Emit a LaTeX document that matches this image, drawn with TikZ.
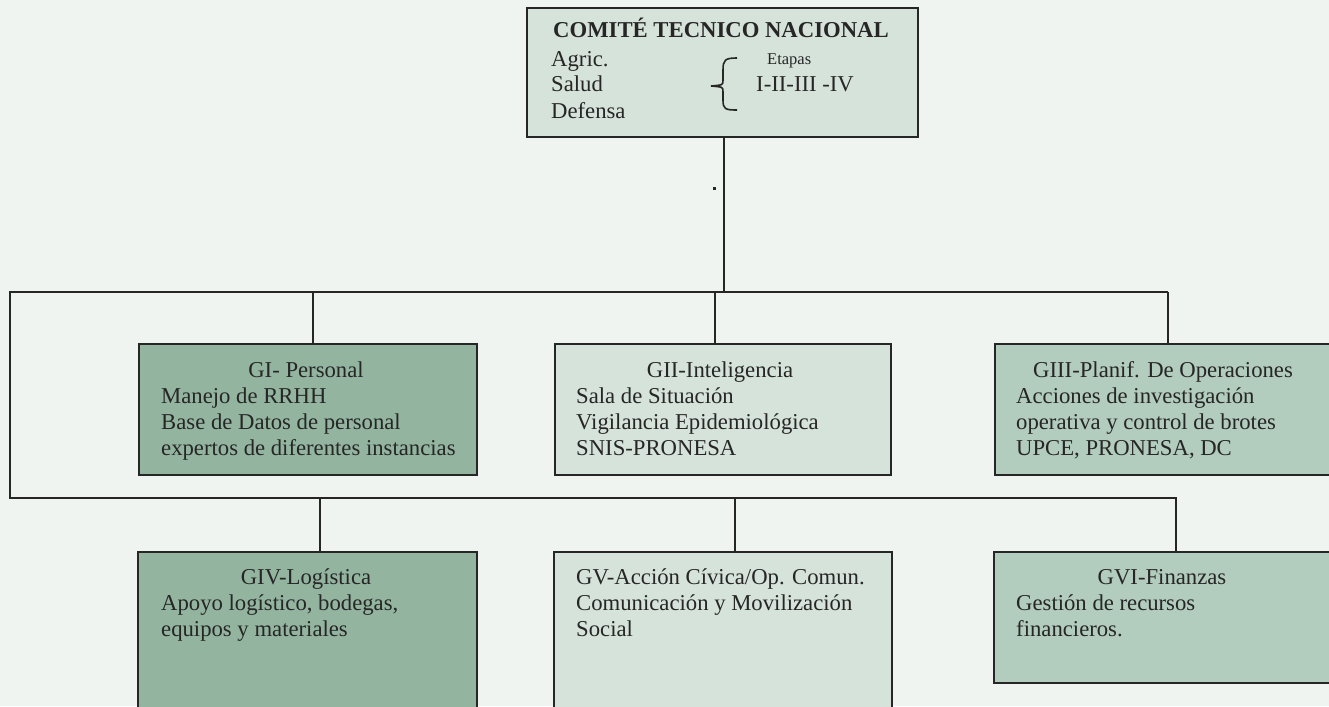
\documentclass[tikz,border=0pt]{standalone}
\usepackage{fontspec}
\setmainfont{Liberation Serif}
\definecolor{bg}{HTML}{EFF4F0}
\definecolor{dark}{HTML}{93B5A0}
\definecolor{light}{HTML}{D6E3DA}
\definecolor{mid}{HTML}{B2CCBE}
\definecolor{ln}{HTML}{262626}
\begin{document}
\begin{tikzpicture}[x=1pt,y=-1pt,
  box/.style={draw=ln,line width=2pt,rectangle,inner sep=0pt},
  conn/.style={draw=ln,line width=2pt},
  txt/.style={inner sep=0pt,anchor=base west,font=\fontsize{22.7}{26}\selectfont,text=black!85},
  ttl/.style={inner sep=0pt,anchor=base,font=\fontsize{22.7}{26}\selectfont,text=black!85}]
\useasboundingbox (0,0) rectangle (1329,706);
\clip (0,0) rectangle (1329,706);
\fill[bg] (0,0) rectangle (1329,706);

% boxes
\node[box,fill=light,minimum width=391pt,minimum height=129pt,anchor=north west] (top) at (526,7) {};
\node[box,fill=dark,minimum width=338pt,minimum height=131pt,anchor=north west] (gi) at (138,343) {};
\node[box,fill=light,minimum width=336pt,minimum height=131pt,anchor=north west] (gii) at (554,343) {};
\node[box,fill=mid,minimum width=360pt,minimum height=131pt,anchor=north west] (giii) at (994,343) {};
\node[box,fill=dark,minimum width=339pt,minimum height=200pt,anchor=north west] (giv) at (137,551) {};
\node[box,fill=light,minimum width=338pt,minimum height=200pt,anchor=north west] (gv) at (553,551) {};
\node[box,fill=mid,minimum width=360pt,minimum height=131pt,anchor=north west] (gvi) at (993,551) {};

% top box text
\node[txt,font=\fontsize{22.7}{26}\bfseries\selectfont] (tt) at (553,38) {COMITÉ TECNICO NACIONAL};
\node[txt] (t1) at (551,67) {Agric.};
\node[txt] (t2) at (551,92) {Salud};
\node[txt] (t3) at (551,118) {Defensa};
\node[txt,font=\fontsize{16.5}{18}\selectfont] (et) at (767,65) {Etapas};
\node[txt] (st) at (756,92) {I-II-III -IV};
\draw[ln,line width=1.6pt] (737,58) .. controls (725,58) and (723,60) .. (723,70)
  -- (723,80) .. controls (723,85) .. (711,86)
  .. controls (723,87) .. (723,92) -- (723,100)
  .. controls (723,109) and (725,110) .. (737,110);

% connectors
\coordinate (j1) at (724,292);
\coordinate (jl) at (10,292);
\coordinate (jb) at (10,498);
\draw[conn] (top.south -| j1) -- (j1);
\fill[ln] (712.5,187) rectangle (715.5,190);
\draw[conn] (1168,292) -- (jl) -- (jb) -- (1176,498) -- (gvi.north -| 1176,498);
\draw[conn] (313,292) -- (gi.north -| 313,292);
\draw[conn] (715,292) -- (gii.north -| 715,292);
\draw[conn] (1168,292) -- (giii.north -| 1168,292);
\draw[conn] (320,498) -- (giv.north -| 320,498);
\draw[conn] (735,498) -- (gv.north -| 735,498);

% GI
\node[ttl] (gi0) at (306,377) {GI- Personal};
\node[txt] (gi1) at (161,403) {Manejo de RRHH};
\node[txt] (gi2) at (161,429) {Base de Datos de personal};
\node[txt] (gi3) at (161,455) {expertos de diferentes instancias};
% GII
\node[ttl] (gii0) at (720,377) {GII-Inteligencia};
\node[txt] (gii1) at (576,403) {Sala de Situación};
\node[txt] (gii2) at (576,429) {Vigilancia Epidemiológica};
\node[txt] (gii3) at (576,455) {SNIS-PRONESA};
% GIII
\node[txt] (giii0) at (1033,377) {GIII-Planif. De Operaciones};
\node[txt] (giii1) at (1016,403) {Acciones de investigación};
\node[txt] (giii2) at (1016,429) {operativa y control de brotes};
\node[txt] (giii3) at (1016,455) {UPCE, PRONESA, DC};
% GIV
\node[ttl] (giv0) at (306,584) {GIV-Logística};
\node[txt] (giv1) at (161,610) {Apoyo logístico, bodegas,};
\node[txt] (giv2) at (161,636) {equipos y materiales};
% GV
\node[txt] (gv0) at (576,584) {GV-Acción Cívica/Op. Comun.};
\node[txt] (gv1) at (576,610) {Comunicación y Movilización};
\node[txt] (gv2) at (576,636) {Social};
% GVI
\node[ttl] (gvi0) at (1162,584) {GVI-Finanzas};
\node[txt] (gvi1) at (1016,610) {Gestión de recursos};
\node[txt] (gvi2) at (1016,636) {financieros.};
\end{tikzpicture}
\end{document}
